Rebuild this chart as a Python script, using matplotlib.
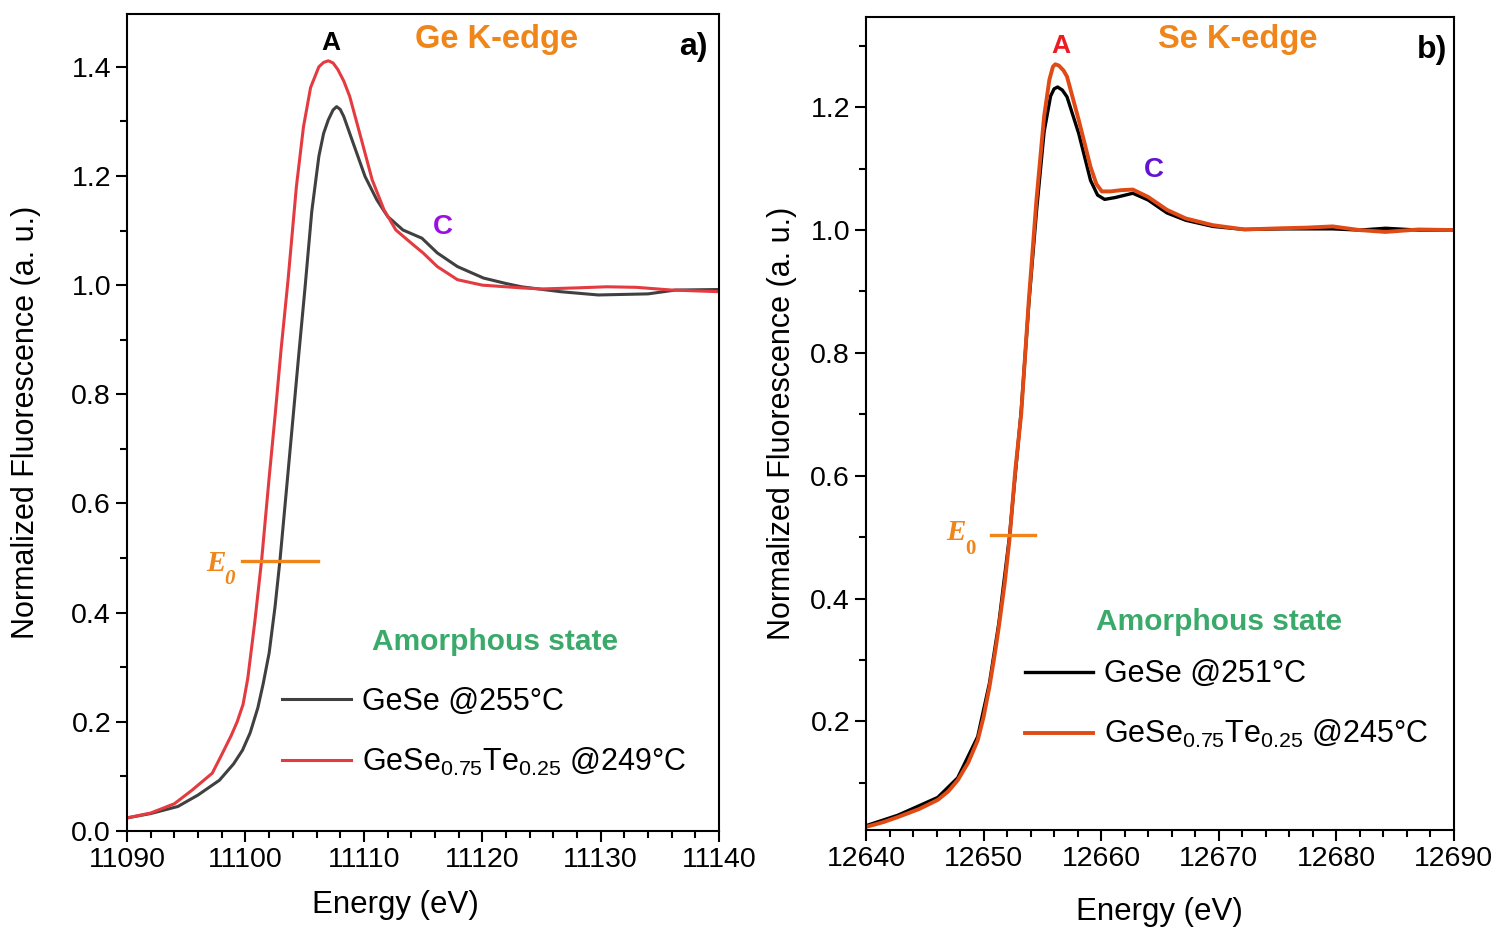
import numpy as np
import matplotlib
matplotlib.use("Agg")
import matplotlib.pyplot as plt
from matplotlib.ticker import MultipleLocator

plt.rcParams["font.family"] = ["Liberation Sans", "DejaVu Sans"]
plt.rcParams["mathtext.default"] = "regular"
plt.rcParams["axes.linewidth"] = 1.5

# ---- panel a) Ge K-edge ----
ge_E_gese = [11090, 11092, 11094.3, 11096, 11097.8, 11099, 11099.75, 11100.4, 11101.05,
             11101.5, 11102, 11102.5, 11102.92, 11103.5, 11104.0, 11104.5, 11105.03,
             11105.6, 11106.2, 11106.6, 11107, 11107.4, 11107.7, 11108, 11108.3, 11109.1,
             11110.1, 11111.1, 11112, 11113.3, 11114.9, 11116.2, 11117.9, 11120.1,
             11122, 11123.3, 11126.6, 11129.8, 11134, 11136.3, 11140]
ge_mu_gese = [0.024, 0.032, 0.045, 0.066, 0.093, 0.123, 0.148, 0.180, 0.226,
              0.270, 0.326, 0.411, 0.497, 0.634, 0.753, 0.872, 0.995,
              1.135, 1.236, 1.278, 1.303, 1.321, 1.327, 1.322, 1.309, 1.260,
              1.199, 1.156, 1.126, 1.101, 1.086, 1.059, 1.034, 1.013,
              1.003, 0.997, 0.988, 0.982, 0.984, 0.991, 0.992]

ge_E_te = [11090, 11092, 11094, 11095.5, 11097.2, 11098, 11098.8, 11099.3, 11099.8,
           11100.2, 11100.8, 11101.37, 11102, 11102.5, 11103, 11103.6, 11104.3,
           11104.9, 11105.5, 11106.2, 11106.6, 11107, 11107.4, 11107.8, 11108.3,
           11108.8, 11109.8, 11110.7, 11111.7, 11112.7, 11114, 11115, 11116.2,
           11117.9, 11120, 11123.3, 11125, 11128, 11130.5, 11133, 11136, 11140]
ge_mu_te = [0.024, 0.033, 0.050, 0.075, 0.106, 0.140, 0.175, 0.200, 0.232,
            0.280, 0.385, 0.497, 0.647, 0.760, 0.880, 1.010, 1.180,
            1.290, 1.362, 1.400, 1.408, 1.411, 1.407, 1.395, 1.374,
            1.346, 1.266, 1.193, 1.138, 1.101, 1.077, 1.059, 1.034,
            1.010, 1.000, 0.995, 0.993, 0.995, 0.997, 0.996, 0.991, 0.988]

# ---- panel b) Se K-edge ----
se_E_gese = [12640, 12642.7, 12646.1, 12647.8, 12649.5, 12650.5, 12651.3, 12652.2,
             12653.2, 12653.85, 12654.5, 12655.15, 12655.7, 12656, 12656.3, 12656.7,
             12657.1, 12658.1, 12659.1, 12659.7, 12660.3, 12661.2, 12662.7, 12664,
             12665.6, 12667.2, 12669.5, 12672.2, 12675.4, 12677.5, 12679.7, 12682,
             12684.2, 12687, 12690]
se_mu_gese = [0.030, 0.047, 0.076, 0.108, 0.175, 0.262, 0.360, 0.500,
              0.705, 0.880, 1.030, 1.160, 1.218, 1.230, 1.233, 1.228,
              1.217, 1.157, 1.081, 1.057, 1.050, 1.053, 1.060, 1.049,
              1.028, 1.016, 1.006, 1.001, 1.002, 1.002, 1.002, 1.000,
              1.003, 1.000, 1.000]

se_E_te = [12640, 12641.5, 12642.7, 12644.5, 12646.1, 12647, 12647.8, 12648.7, 12649.5,
           12650, 12650.5, 12651, 12651.3, 12651.8, 12652.2, 12652.7, 12653.2, 12653.85,
           12654.5, 12655.15, 12655.6, 12655.9, 12656.1, 12656.4, 12656.8, 12657.1,
           12658.1, 12659.1, 12659.6, 12660.06, 12660.8, 12661.7, 12662.7, 12664,
           12665.6, 12667.2, 12669.5, 12672.2, 12675.4, 12677.5, 12679.7, 12682,
           12684.2, 12687, 12690]
se_mu_te = [0.028, 0.036, 0.044, 0.057, 0.072, 0.086, 0.104, 0.133, 0.169,
            0.207, 0.256, 0.315, 0.354, 0.425, 0.495, 0.609, 0.700, 0.886,
            1.049, 1.185, 1.245, 1.266, 1.270, 1.268, 1.260, 1.250,
            1.179, 1.103, 1.075, 1.063, 1.063, 1.065, 1.066, 1.054,
            1.033, 1.019, 1.008, 1.001, 1.003, 1.004, 1.006, 1.000,
            0.997, 1.001, 1.000]

labels_a = ["GeSe @255°C", "GeSe$_{0.75}$Te$_{0.25}$ @249°C"]
labels_b = ["GeSe @251°C", "GeSe$_{0.75}$Te$_{0.25}$ @245°C"]

orange = "#f0861a"
green = "#3aaa6a"

fig = plt.figure(figsize=(15.03, 9.35), dpi=100)
ax1 = fig.add_axes([0.0845, 0.1112, 0.394, 0.874])
ax2 = fig.add_axes([0.5762, 0.1123, 0.391, 0.8695])


def style(ax):
    ax.tick_params(axis="both", which="major", direction="out", length=8, width=1.5,
                   labelsize=20.5)
    ax.tick_params(axis="both", which="minor", direction="out", length=5, width=1.5)
    ax.tick_params(top=False, right=False)
    ax.xaxis.set_major_locator(MultipleLocator(10))
    ax.xaxis.set_minor_locator(MultipleLocator(2))
    ax.yaxis.set_major_locator(MultipleLocator(0.2))
    ax.yaxis.set_minor_locator(MultipleLocator(0.1))
    ax.set_xlabel("Energy (eV)", fontsize=22.5)
    ax.set_ylabel("Normalized Fluorescence (a. u.)", fontsize=22)


# panel a
ax1.plot(ge_E_gese, ge_mu_gese, color="#404040", lw=2.2, label=labels_a[0])
ax1.plot(ge_E_te, ge_mu_te, color="#e33b40", lw=2.2, label=labels_a[1])
ax1.set_xlim(11090, 11140)
ax1.set_ylim(0, 1.497)
style(ax1)
ax1.xaxis.set_label_coords(0.453, -0.072)
ax1.yaxis.set_label_coords(-0.145, 0.5)
ax1.plot([11099.7, 11106.1], [0.495, 0.495], color=orange, lw=2.4)
ax1.text(11098.3, 0.49, "E", color=orange, fontsize=21, family="Liberation Serif",
         style="italic", weight="bold", ha="right", va="center")
ax1.text(11098.2, 0.462, "0", color=orange, fontsize=15, family="Liberation Serif",
         style="italic", weight="bold", ha="left", va="center")
ax1.text(11107.2, 1.444, "A", color="black", fontsize=19, weight="bold", ha="center", va="center")
ax1.text(11116.7, 1.107, "C", color="#9b10e0", fontsize=20, weight="bold", ha="center", va="center")
ax1.text(11121.2, 1.450, "Ge K-edge", color=orange, fontsize=23.5, weight="bold",
         ha="center", va="center")
ax1.text(11137.8, 1.437, "a)", color="black", fontsize=23, weight="bold", ha="center", va="center")
ax1.text(11121.1, 0.346, "Amorphous state", color=green, fontsize=21.5, weight="bold",
         ha="center", va="center")
ax1.legend(loc="center left", bbox_to_anchor=(0.262, 0.121), frameon=False, fontsize=22,
           handlelength=2.25, handletextpad=0.35, labelspacing=0.95, borderpad=0,
           borderaxespad=0)

# panel b
ax2.plot(se_E_gese, se_mu_gese, color="black", lw=2.4, label=labels_b[0])
ax2.plot(se_E_te, se_mu_te, color="#e04a14", lw=2.8, label=labels_b[1])
ax2.set_xlim(12640, 12690)
ax2.set_ylim(0.023, 1.347)
style(ax2)
ax2.xaxis.set_label_coords(0.5, -0.082)
ax2.yaxis.set_label_coords(-0.117, 0.5)
ax2.plot([12650.6, 12654.4], [0.503, 0.503], color=orange, lw=2.4)
ax2.text(12648.5, 0.507, "E", color=orange, fontsize=21, family="Liberation Serif",
         style="italic", weight="bold", ha="right", va="center")
ax2.text(12648.4, 0.48, "0", color=orange, fontsize=15, family="Liberation Serif",
         weight="bold", ha="left", va="center")
ax2.text(12656.6, 1.300, "A", color="#ec1c24", fontsize=19, weight="bold", ha="center", va="center")
ax2.text(12664.5, 1.098, "C", color="#6214d0", fontsize=20, weight="bold", ha="center", va="center")
ax2.text(12671.6, 1.310, "Se K-edge", color=orange, fontsize=23.5, weight="bold",
         ha="center", va="center")
ax2.text(12688.2, 1.293, "b)", color="black", fontsize=23, weight="bold", ha="center", va="center")
ax2.text(12670.0, 0.362, "Amorphous state", color=green, fontsize=21.5, weight="bold",
         ha="center", va="center")
ax2.legend(loc="center left", bbox_to_anchor=(0.27, 0.154), frameon=False, fontsize=22,
           handlelength=2.25, handletextpad=0.35, labelspacing=0.95, borderpad=0,
           borderaxespad=0)

fig.savefig("out.png", dpi=100)
